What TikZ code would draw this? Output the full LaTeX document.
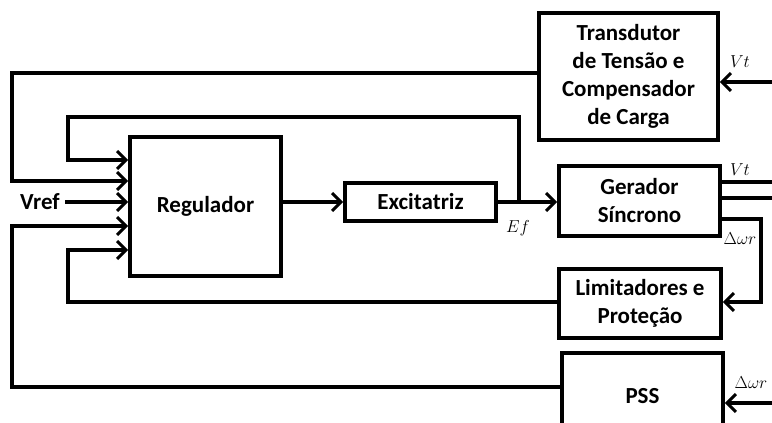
\documentclass[tikz,border=0pt]{standalone}
\usepackage{fontspec}
\setmainfont{Carlito}
\usetikzlibrary{arrows.meta}
\begin{document}
\begin{tikzpicture}[x=1pt,y=-1pt,
  blk/.style={draw,line width=3.6pt,inner sep=0pt,align=center,font=\bfseries\fontsize{23}{28}\selectfont},
  wire/.style={line width=3.6pt},
  arr/.style={wire,-{Straight Barb[length=9pt,width=18pt,line width=3pt]}},
  lbl/.style={font=\fontsize{16}{18}\selectfont}]
\useasboundingbox (0,0) rectangle (772,423);
\clip (0,0) rectangle (772,423);
\node[blk,minimum width=151pt,minimum height=139pt] (reg) at (205.5,206.5) {Regulador};
\node[blk,minimum width=151pt,minimum height=38pt] (exc) at (420.5,202) {Excitatriz};
\node[blk,minimum width=161pt,minimum height=70pt] (ger) at (639.5,201) {Gerador\\Síncrono};
\node[blk,minimum width=179pt,minimum height=127pt] (tr) at (628.5,76.5) {Transdutor\\de Tensão e\\Compensador\\de Carga};
\node[blk,minimum width=162pt,minimum height=69pt] (lim) at (640,303.5) {Limitadores e\\Proteção};
\node[blk,minimum width=161pt,minimum height=87pt] (pss) at (642.5,396.5) {PSS};
\node[font=\bfseries\fontsize{23}{24}\selectfont] (vref) at (40,202) {Vref};
\coordinate (tap) at (519,202);
\coordinate (vtin) at (772,82);
\coordinate (vtout) at (772,182);
\coordinate (out2) at (772,198);
\coordinate (dwin) at (772,403);
% labels
\node[lbl] (lvt1) at (740,62) {$Vt$};
\node[lbl] (lvt2) at (740,170) {$Vt$};
\node[lbl] (ldw1) at (740,239) {$\Delta\omega r$};
\node[lbl] (ldw2) at (751,383) {$\Delta\omega r$};
\node[lbl] (lef) at (518,228) {$Ef$};
% connectors
\draw[arr] (tr.west |- 0,73) -- (12,73) -- (12,181) -- (reg.west |- 0,181);
\draw[arr] (tap) -- (519,117) -- (68,117) -- (68,160) -- (reg.west |- 0,160);
\draw[arr] (vref.east |- 0,202) ++(2,0) -- (reg.west |- 0,202);
\draw[arr] (reg.east |- exc.west) -- (exc.west);
\draw[arr] (exc.east) -- (ger.west |- exc.east);
\draw[arr] (vtin) -- (tr.east |- vtin);
\draw[wire] (ger.east |- vtout) -- (vtout);
\draw[wire] (ger.east |- out2) -- (out2);
\draw[arr] (ger.east |- 0,219) -- (761,219) -- (761,302) -- (lim.east |- 0,302);
\draw[arr] (lim.west |- 0,302) -- (68,302) -- (68,250) -- (reg.west |- 0,250);
\draw[arr] (pss.west |- 0,387) -- (12,387) -- (12,226) -- (reg.west |- 0,226);
\draw[arr] (dwin) -- (pss.east |- dwin);
\end{tikzpicture}
\end{document}
